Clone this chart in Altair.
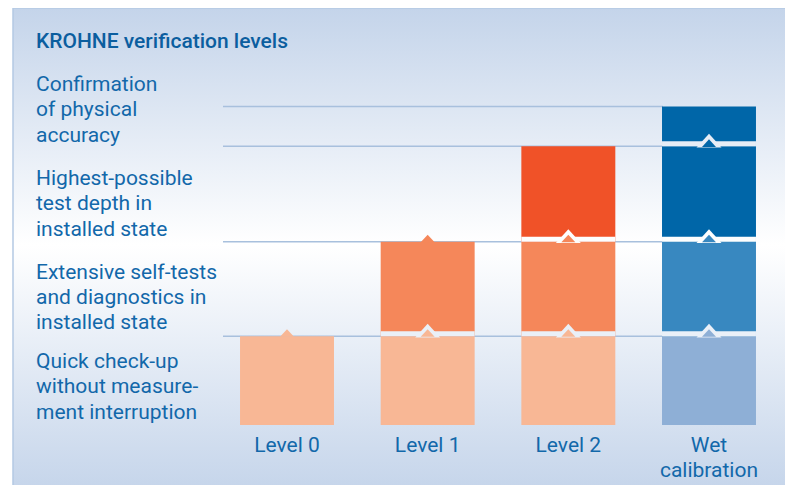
import altair as alt
import pandas as pd

# ---------------- data ----------------
title_text = "KROHNE verification levels"
levels = ["Level 0", "Level 1", "Level 2", "Wet calibration"]
level_label_lines = [["Level 0"], ["Level 1"], ["Level 2"], ["Wet", "calibration"]]
# level boundaries (bottom of chart = 0)
boundaries = [0, 0.94, 1.94, 2.95, 3.37]
# segment colours per bar, bottom to top
seg_colors = {
    "Level 0": ["#f8b795"],
    "Level 1": ["#f8b795", "#f5875a"],
    "Level 2": ["#f8b795", "#f5875a", "#f05228"],
    "Wet calibration": ["#8eafd6", "#3888c0", "#0066a8", "#0066a8"],
}
top_bump_levels = ["Level 0", "Level 1"]
row_labels = [
    ["Confirmation", "of physical", "accuracy"],
    ["Highest-possible", "test depth in", "installed state"],
    ["Extensive self-tests", "and diagnostics in", "installed state"],
    ["Quick check-up", "without measure-", "ment interruption"],
]

# ---------------- layout / style ----------------
FONT = "Roboto"
FS = 21
TXT = "#1268aa"
TITLE_C = "#0b5e9f"
RULE_C = "#a8c0dd"
PLOT_W, PLOT_H = 550, 365
PAD_L, PAD_T, PAD_R, PAD_B = 215, 52, 12, 60
Y_MAX = 3.862
PAGE_TOP = 8 + PAD_T  # page y of plot top
grad_top, grad_mid, grad_bot = (196, 212, 234), (255, 255, 255), (196, 212, 234)
BG_Y0, BG_Y1 = 8, 495
MID_OFF = 0.487


def bg_color(page_y):
    t = (page_y - BG_Y0) / (BG_Y1 - BG_Y0)
    if t <= MID_OFF:
        a, b, f = grad_top, grad_mid, t / MID_OFF
    else:
        a, b, f = grad_mid, grad_bot, (t - MID_OFF) / (1 - MID_OFF)
    c = [round(a[i] + (b[i] - a[i]) * f) for i in range(3)]
    return "#%02x%02x%02x" % tuple(c)


def page_y(v):
    return PAGE_TOP + PLOT_H * (1 - v / Y_MAX)


segs, seps, tops = [], [], []
for lv in levels:
    cols = seg_colors[lv]
    for k, c in enumerate(cols):
        segs.append({"level": lv, "lo": boundaries[k], "hi": boundaries[k + 1], "color": c})
        if k >= 1:
            b = boundaries[k]
            seps.append({"level": lv, "b": b, "lower": cols[k - 1],
                         "gap": bg_color(page_y(b) - 3)})
    if lv in top_bump_levels:
        tops.append({"level": lv, "b": boundaries[len(cols)], "color": cols[-1]})

segs_df = pd.DataFrame(segs)
seps_df = pd.DataFrame(seps)
tops_df = pd.DataFrame(tops)
rules_df = pd.DataFrame({"b": boundaries[1:]})
xlab_df = pd.DataFrame({"level": levels, "lines": level_label_lines})

y_scale = alt.Scale(domain=[0, Y_MAX], nice=False, zero=False)
x_scale = alt.Scale(domain=levels, paddingInner=0.332, paddingOuter=0.121)


def xenc():
    return alt.X("level:N", sort=levels, axis=None, scale=x_scale)


bg = alt.Chart(alt.Data(values=[{}])).mark_rect(
    fill={"gradient": "linear", "x1": 0, "y1": 0, "x2": 0, "y2": 1,
          "stops": [{"offset": 0, "color": "#c4d4ea"},
                    {"offset": MID_OFF, "color": "#ffffff"},
                    {"offset": 1, "color": "#c4d4ea"}]},
    stroke="#b4c9e4", strokeWidth=1.5,
).encode(
    x=alt.value(13 - 8 - PAD_L), x2=alt.value(PLOT_W + 40),
    y=alt.value(BG_Y0 - PAGE_TOP), y2=alt.value(BG_Y1 - PAGE_TOP),
)

rules = alt.Chart(rules_df).mark_rule(color=RULE_C, strokeWidth=1.5).encode(
    y=alt.Y("b:Q", scale=y_scale, axis=None),
    x=alt.value(0), x2=alt.value(440),
)

bars = alt.Chart(segs_df).mark_bar().encode(
    x=xenc(),
    y=alt.Y("hi:Q", scale=y_scale, axis=None),
    y2="lo:Q",
    color=alt.Color("color:N", scale=None),
)

gapband = alt.Chart(seps_df).mark_bar(y2Offset=-5).encode(
    x=xenc(),
    y=alt.Y("b:Q", scale=y_scale, axis=None),
    y2="b:Q",
    color=alt.Color("gap:N", scale=None),
)

TRI = "M-1,0.1L0,-1L1,0.1Z"
notch = alt.Chart(seps_df).mark_point(shape=TRI, filled=True, opacity=1, strokeWidth=0, size=625).encode(
    x=xenc(), y=alt.Y("b:Q", scale=y_scale, axis=None),
    color=alt.Color("gap:N", scale=None),
)
bump = alt.Chart(seps_df).mark_point(shape=TRI, filled=True, opacity=1, strokeWidth=0, size=196).encode(
    x=xenc(), y=alt.Y("b:Q", scale=y_scale, axis=None),
    color=alt.Color("lower:N", scale=None),
)
topbump = alt.Chart(tops_df).mark_point(shape=TRI, filled=True, opacity=1, strokeWidth=0, size=196).encode(
    x=xenc(), y=alt.Y("b:Q", scale=y_scale, axis=None),
    color=alt.Color("color:N", scale=None),
)

xlabels = alt.Chart(xlab_df).mark_text(
    align="center", baseline="alphabetic", font=FONT, fontSize=FS, lineHeight=25.6, color=TXT,
).encode(x=xenc(), y=alt.value(451.7 - PAGE_TOP), text="lines")

TEXT_X = 36 - 8 - PAD_L
first_baselines = [91, 185, 278.5, 368]
texts = []
for lines, base in zip(row_labels, first_baselines):
    texts.append(
        alt.Chart(alt.Data(values=[{}])).mark_text(
            align="left", baseline="alphabetic", font=FONT, fontSize=FS,
            lineHeight=25.4, color=TXT,
        ).encode(x=alt.value(TEXT_X), y=alt.value(base - PAGE_TOP), text=alt.value(lines))
    )
title = alt.Chart(alt.Data(values=[{}])).mark_text(
    align="left", baseline="alphabetic", font=FONT, fontSize=FS, fontWeight=500,
    color=TITLE_C,
).encode(x=alt.value(TEXT_X), y=alt.value(47.5 - PAGE_TOP), text=alt.value(title_text))

chart = alt.layer(bg, rules, bars, gapband, notch, bump, topbump, xlabels, title, *texts).properties(
    width=PLOT_W, height=PLOT_H,
    padding={"left": PAD_L, "top": PAD_T, "right": PAD_R, "bottom": PAD_B},
    autosize=alt.AutoSizeParams(type="none"),
).configure_view(stroke=None)

chart.save("out.html", embed_options={"renderer": "svg", "actions": False})
